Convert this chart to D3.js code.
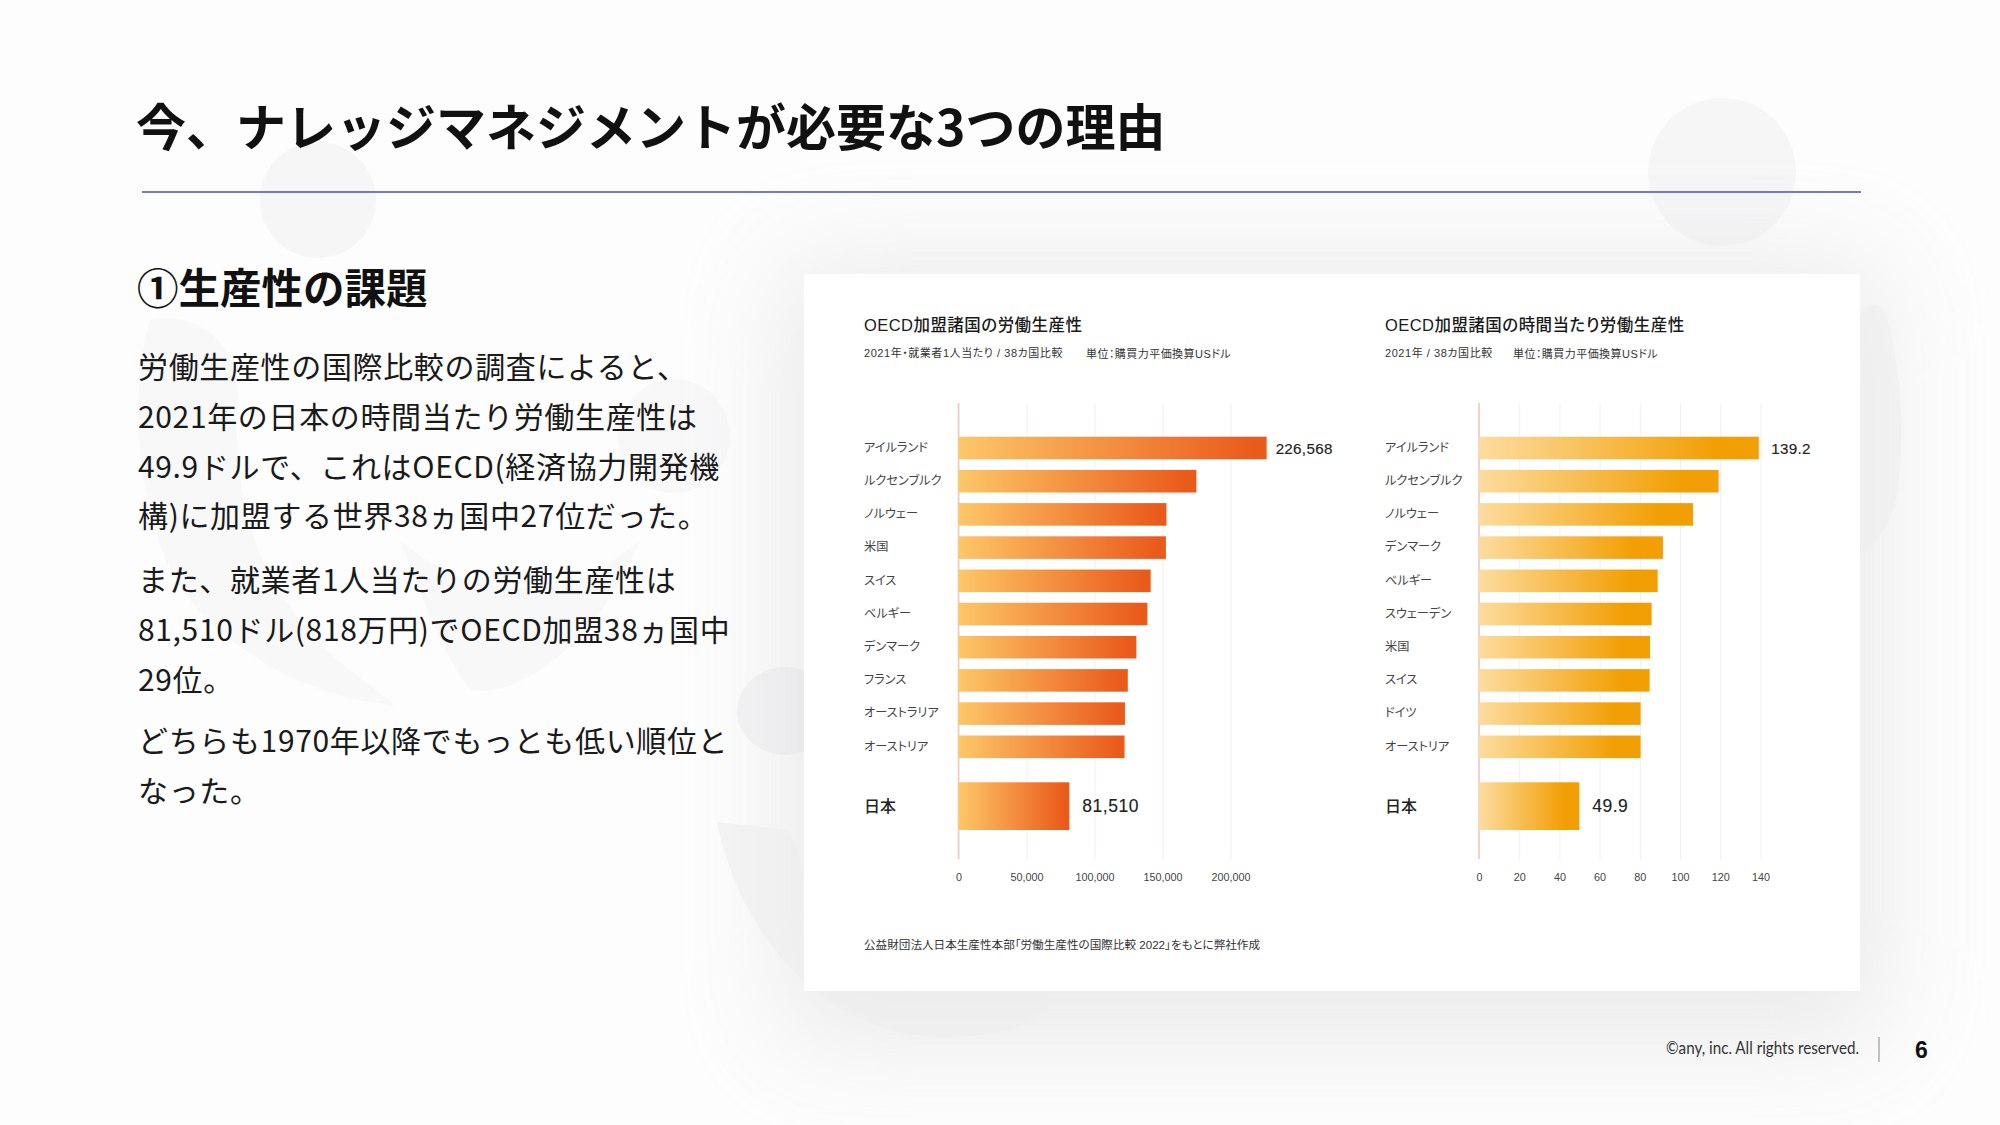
<!DOCTYPE html>
<html lang="ja">
<head>
<meta charset="utf-8">
<title>今、ナレッジマネジメントが必要な3つの理由</title>
<script src="https://cdn.jsdelivr.net/npm/d3@7"></script>
<style>
  html, body { margin: 0; padding: 0; background: #fdfdfd; }
  svg { display: block; }
  text { font-family: "Noto Sans CJK JP", sans-serif; }
  .palt { font-feature-settings: "palt"; }
  .latin, .latin text { font-family: "Liberation Sans", "Noto Sans CJK JP", sans-serif; font-feature-settings: "palt"; }
</style>
</head>
<body>
<svg id="slide" width="2000" height="1125"></svg>
<script>
// values
const perWorkerCountries = ["アイルランド", "ルクセンブルク", "ノルウェー", "米国", "スイス", "ベルギー", "デンマーク", "フランス", "オーストラリア", "オーストリア"];
const perWorkerValues = [226568, 174900, 152900, 152500, 141300, 138900, 130800, 124500, 122400, 122100];
const perWorkerJapan = 81510;
const perWorkerTicks = [0, 50000, 100000, 150000, 200000];

const perHourCountries = ["アイルランド", "ルクセンブルク", "ノルウェー", "デンマーク", "ベルギー", "スウェーデン", "米国", "スイス", "ドイツ", "オーストリア"];
const perHourValues = [139.2, 119.2, 106.5, 91.5, 88.9, 85.9, 85.1, 84.9, 80.4, 80.4];
const perHourJapan = 49.9;
const perHourTicks = [0, 20, 40, 60, 80, 100, 120, 140];

const bodyLines = [
  "労働生産性の国際比較の調査によると、",
  "2021年の日本の時間当たり労働生産性は",
  "49.9ドルで、これはOECD(経済協力開発機",
  "構)に加盟する世界38ヵ国中27位だった。",
  "また、就業者1人当たりの労働生産性は",
  "81,510ドル(818万円)でOECD加盟38ヵ国中",
  "29位。",
  "どちらも1970年以降でもっとも低い順位と",
  "なった。"
];
const bodyBaselines = [378, 428, 478, 527, 591, 641, 691, 752, 802];

const svg = d3.select("#slide");
const defs = svg.append("defs");

defs.append("filter").attr("id", "soft")
  .attr("x", "-30%").attr("y", "-30%").attr("width", "160%").attr("height", "160%")
  .append("feGaussianBlur").attr("stdDeviation", 55);

function gradient(id, from, to, stop) {
  const g = defs.append("linearGradient").attr("id", id);
  g.append("stop").attr("offset", "0%").attr("stop-color", from);
  g.append("stop").attr("offset", stop).attr("stop-color", to);
}
gradient("gradWorker", "#fdc767", "#ea5a1b", "96%");
gradient("gradHour", "#fddc9f", "#f29f05", "84%");

// background blobs
const blobs = svg.append("g").attr("fill", "#f8f8f9");
blobs.append("ellipse").attr("cx", 318).attr("cy", 200).attr("rx", 58).attr("ry", 58).attr("fill", "#f6f6f7");
blobs.append("ellipse").attr("cx", 1722).attr("cy", 172).attr("rx", 74).attr("ry", 74).attr("fill", "#f6f6f7");
blobs.append("ellipse").attr("cx", 674).attr("cy", 436).attr("rx", 56).attr("ry", 57);
blobs.append("ellipse").attr("cx", 785).attr("cy", 711).attr("rx", 48).attr("ry", 44).attr("fill", "#f4f4f5");
blobs.append("path").attr("d", "M150 320 C200 310 240 345 238 400 C232 480 250 560 300 620 C330 660 365 680 395 705 C320 700 240 660 190 600 C140 540 125 400 150 320Z");
blobs.append("path").attr("d", "M400 540 C470 600 560 610 640 540 C600 640 520 700 470 690 C440 650 420 590 400 540Z");

// card with its soft shadow
svg.append("rect").attr("x", 785).attr("y", 265).attr("width", 1095).attr("height", 775)
  .attr("fill", "#cfcfd1").attr("opacity", 0.42).attr("filter", "url(#soft)");
const blobsOver = svg.append("g").attr("fill", "#ececed").attr("opacity", 0.55);
blobsOver.append("path").attr("d", "M717 822 C740 940 830 1035 940 1037 C990 1037 1030 1030 1045 1007 L1045 960 L804 960 L804 880 C800 860 795 840 787 830Z");
blobsOver.append("path").attr("d", "M1860 315 C1870 300 1885 300 1890 330 C1900 380 1905 420 1898 490 C1890 530 1875 545 1860 553Z");
svg.append("rect").attr("x", 804).attr("y", 274).attr("width", 1056).attr("height", 717).attr("fill", "#fff");

// heading
svg.append("text").attr("x", 136).attr("y", 146)
  .attr("font-size", 50).attr("font-weight", 700).attr("fill", "#111")
  .text("今、ナレッジマネジメントが必要な3つの理由");
svg.append("line").attr("x1", 142).attr("x2", 1861).attr("y1", 192).attr("y2", 192)
  .attr("stroke", "#4f4db5").attr("stroke-width", 1.6);

svg.append("text").attr("x", 137).attr("y", 304)
  .attr("font-size", 41.5).attr("font-weight", 700).attr("fill", "#111")
  .text("①生産性の課題");

svg.append("g").selectAll("text").data(bodyLines).join("text")
  .attr("x", 138)
  .attr("y", (d, i) => bodyBaselines[i])
  .attr("font-size", 30).attr("letter-spacing", 0.65).attr("fill", "#1a1a1a")
  .text(d => d);

function drawChart(opt) {
  const g = svg.append("g");

  g.append("text").attr("x", opt.left).attr("y", 331)
    .attr("class", "latin")
    .attr("font-size", 16.5).attr("font-weight", 500).attr("letter-spacing", 0.45).attr("fill", "#1a1a1a")
    .text(opt.title);
  g.append("text").attr("x", opt.left).attr("y", 357)
    .attr("class", "latin")
    .attr("font-size", 11).attr("letter-spacing", 0.55).attr("fill", "#333")
    .text(opt.sub);
  g.append("text").attr("x", opt.unitX).attr("y", 358)
    .attr("class", "latin")
    .attr("font-size", 11).attr("letter-spacing", 0.45).attr("fill", "#333")
    .text("単位：購買力平価換算USドル");

  const x = d3.scaleLinear().domain(opt.domain).range([opt.x0, opt.x1]);
  const y = d3.scaleBand().domain(opt.countries).range([431.4, 763.4]).paddingInner(0.32).paddingOuter(0.16);

  // grid + tick labels come from the axis
  const axis = d3.axisBottom(x).tickValues(opt.ticks).tickSize(456).tickPadding(13.5).tickFormat(opt.format);
  const ax = g.append("g").attr("class", "latin").attr("transform", "translate(0,403.5)").call(axis);
  ax.select(".domain").remove();
  ax.selectAll("line").attr("stroke", "#f3eeec").attr("stroke-width", 1);
  ax.selectAll("text").attr("fill", "#444").attr("font-size", 10.8);

  g.append("line").attr("x1", x(0)).attr("x2", x(0)).attr("y1", 403).attr("y2", 859)
    .attr("stroke", "#efc8c0").attr("stroke-width", 1.6);

  g.append("g").selectAll("rect").data(opt.values).join("rect")
    .attr("x", x(0))
    .attr("y", (d, i) => y(opt.countries[i]))
    .attr("width", d => x(d) - x(0))
    .attr("height", y.bandwidth())
    .attr("fill", opt.fill);

  g.append("g").selectAll("text").data(opt.countries).join("text")
    .attr("class", "palt")
    .attr("x", opt.left)
    .attr("y", d => y(d) + y.bandwidth() / 2 + 0.5)
    .attr("dominant-baseline", "middle")
    .attr("font-size", 12.2).attr("fill", "#444")
    .text(d => d);

  g.append("text").attr("class", "latin")
    .attr("x", x(opt.values[0]) + opt.topGap)
    .attr("y", y(opt.countries[0]) + y.bandwidth() / 2 + 5.5)
    .attr("font-size", 15.2).attr("letter-spacing", 0.3).attr("fill", "#222")
    .attr("stroke", "#222").attr("stroke-width", 0.15)
    .text(opt.topLabel);

  // Japan sits apart from the ranked ten
  g.append("rect").attr("x", x(0)).attr("y", 782.3)
    .attr("width", x(opt.japan) - x(0)).attr("height", 47.7).attr("fill", opt.fill);
  g.append("text").attr("x", opt.left).attr("y", 812)
    .attr("font-size", 16).attr("font-weight", 500).attr("fill", "#222").text("日本");
  g.append("text").attr("class", "latin").attr("x", x(opt.japan) + 13).attr("y", 812)
    .attr("font-size", 17.5).attr("letter-spacing", 0.5).attr("fill", "#222")
    .attr("stroke", "#222").attr("stroke-width", 0.15)
    .text(opt.japanLabel);
}

drawChart({
  left: 864, unitX: 1086, x0: 958.5, x1: 1230.5, topGap: 9,
  domain: [0, 200000], ticks: perWorkerTicks, format: d3.format(","),
  countries: perWorkerCountries, values: perWorkerValues, japan: perWorkerJapan,
  topLabel: d3.format(",")(perWorkerValues[0]),
  japanLabel: d3.format(",")(perWorkerJapan), fill: "url(#gradWorker)",
  title: "OECD加盟諸国の労働生産性",
  sub: "2021年・就業者1人当たり / 38カ国比較"
});

drawChart({
  left: 1385, unitX: 1513, x0: 1479, x1: 1760.4, topGap: 12.5,
  domain: [0, 140], ticks: perHourTicks, format: d3.format("d"),
  countries: perHourCountries, values: perHourValues, japan: perHourJapan,
  topLabel: perHourValues[0].toFixed(1),
  japanLabel: perHourJapan.toFixed(1), fill: "url(#gradHour)",
  title: "OECD加盟諸国の時間当たり労働生産性",
  sub: "2021年 / 38カ国比較"
});

svg.append("text").attr("class", "latin").attr("x", 864).attr("y", 949)
  .attr("font-size", 11.6).attr("fill", "#333")
  .text("公益財団法人日本生産性本部「労働生産性の国際比較 2022」をもとに弊社作成");

// footer
svg.append("text").attr("x", 1666).attr("y", 1054)
  .style("font-family", "Lato").attr("font-size", 16.5).attr("fill", "#333")
  .attr("textLength", 193).attr("lengthAdjust", "spacingAndGlyphs")
  .text("©any, inc. All rights reserved.");
svg.append("line").attr("x1", 1879).attr("x2", 1879).attr("y1", 1037).attr("y2", 1062)
  .attr("stroke", "#9a9a9a").attr("stroke-width", 1.2);
svg.append("text").attr("class", "latin").attr("x", 1915).attr("y", 1058)
  .attr("font-size", 23).attr("font-weight", 700).attr("fill", "#111").text("6");
</script>
</body>
</html>
